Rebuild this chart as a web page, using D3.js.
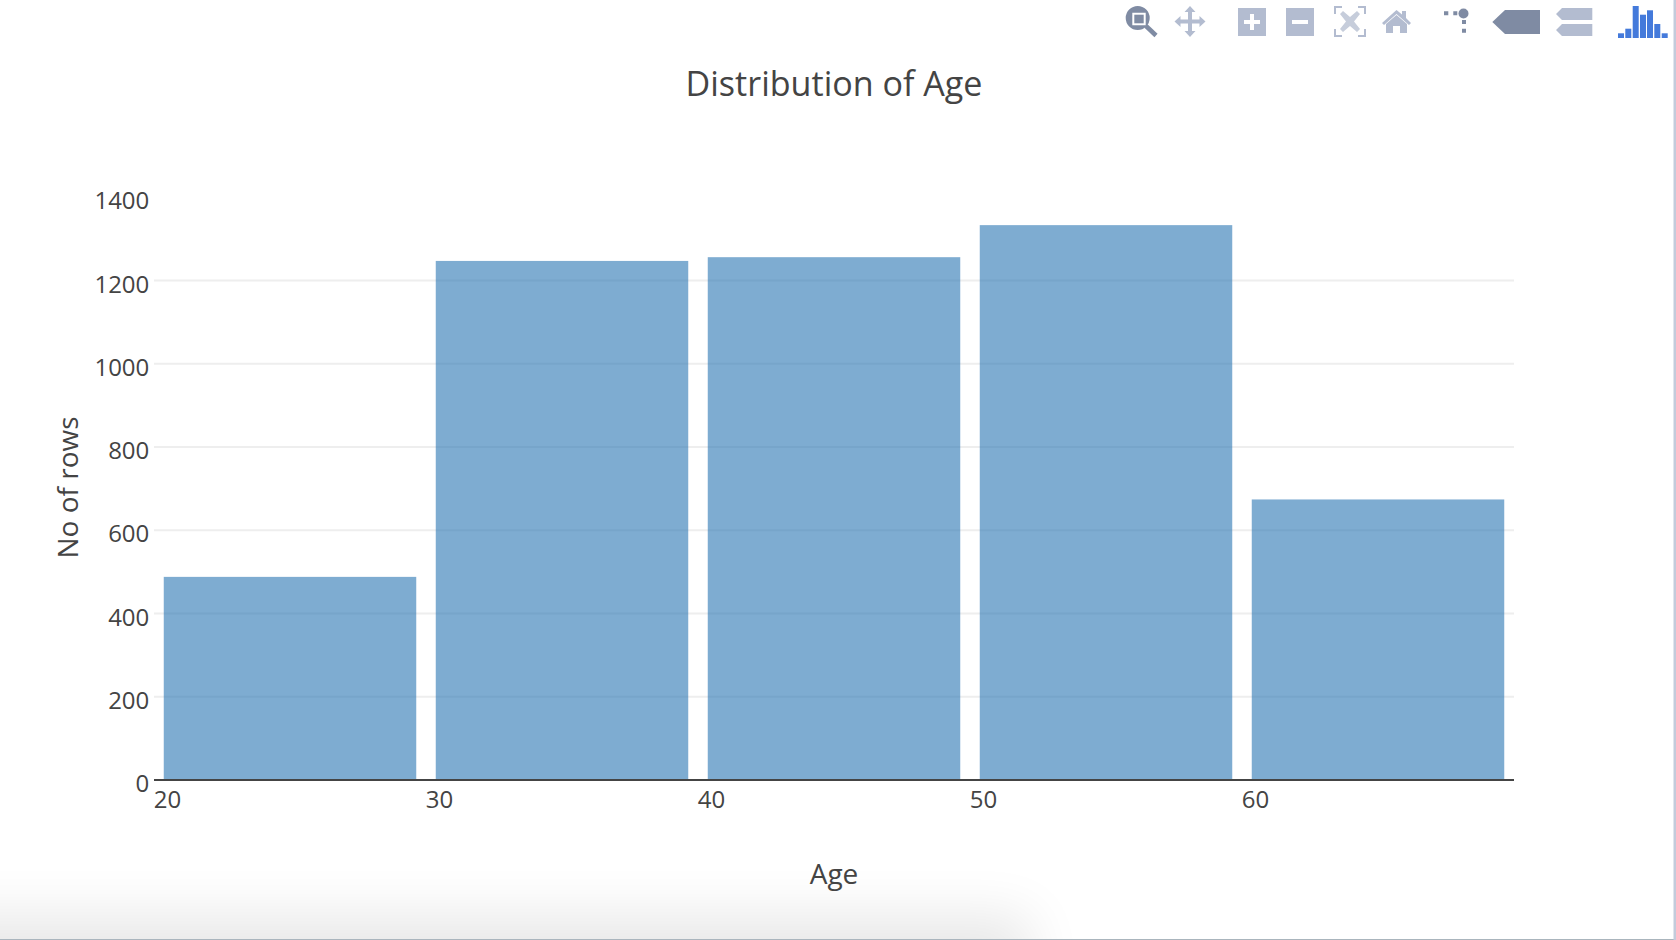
<!DOCTYPE html>
<html>

<head>
  <title>Distribution of Age</title>
  <script src="https://cdn.jsdelivr.net/npm/d3@7"></script>
  <style>
    html, body { margin: 0; padding: 0; background: #fff; overflow: hidden; }
    svg { display: block; }
    text { font-family: "Open Sans", sans-serif; fill: #444; }
  </style>
</head>

<body>
  <svg id="chart"></svg>

  <script>
    // Values
    const binStarts = [19.5, 29.5, 39.5, 49.5, 59.5];
    const binSize = 10;
    const counts = [488, 1247, 1256, 1333, 674];
    const xTicks = [20, 30, 40, 50, 60];
    const yTicks = [0, 200, 400, 600, 800, 1000, 1200, 1400];

    const width = 1676;
    const height = 940;
    const barColor = "#2875b2";
    const gapPx = 9.75; // half of the gap between two bars

    const svg = d3.select("#chart")
      .attr("width", width)
      .attr("height", height)
      .attr("viewBox", [0, 0, width, height]);

    const x = d3.scaleLinear().domain([19.5, 69.5]).range([154, 1514]);
    const y = d3.scaleLinear().domain([0, 1400]).range([780, 197.25]);

    // Grey shadow along the bottom of the screenshot
    const blur = svg.append("defs").append("filter")
      .attr("id", "shadow")
      .attr("x", "-20%").attr("y", "-200%")
      .attr("width", "140%").attr("height", "500%");
    blur.append("feGaussianBlur").attr("stdDeviation", 27);

    svg.append("rect")
      .attr("x", -200).attr("y", 915)
      .attr("width", 1230).attr("height", 120)
      .attr("fill", "#000")
      .attr("opacity", 0.09)
      .attr("filter", "url(#shadow)");

    // Gridlines, none at the bottom or the top tick
    svg.append("g")
      .selectAll("line")
      .data(yTicks.filter(d => d > 0 && d < 1400))
      .join("line")
      .attr("x1", x.range()[0])
      .attr("x2", x.range()[1])
      .attr("y1", d => y(d))
      .attr("y2", d => y(d))
      .attr("stroke", "#eee")
      .attr("stroke-width", 2);

    // Bars
    svg.append("g")
      .attr("fill", barColor)
      .attr("fill-opacity", 0.6)
      .selectAll("rect")
      .data(counts)
      .join("rect")
      .attr("x", (d, i) => x(binStarts[i]) + gapPx)
      .attr("width", (d, i) => x(binStarts[i] + binSize) - x(binStarts[i]) - 2 * gapPx)
      .attr("y", d => y(d))
      .attr("height", d => y(0) - y(d));

    // Axes
    const xAxis = svg.append("g")
      .attr("transform", `translate(0,${y(0)})`)
      .call(d3.axisBottom(x).tickValues(xTicks).tickSize(0).tickFormat(d3.format("d")));
    xAxis.select(".domain").remove();
    xAxis.selectAll("text")
      .attr("x", -0.7)
      .attr("y", 0)
      .attr("dy", 28.3)
      .style("font-size", "24px");

    const yAxis = svg.append("g")
      .attr("transform", `translate(${x.range()[0]},0)`)
      .call(d3.axisLeft(y).tickValues(yTicks).tickSize(0).tickFormat(d3.format("d")));
    yAxis.select(".domain").remove();
    yAxis.selectAll("text")
      .attr("x", -4.7)
      .attr("dy", 11.7)
      .style("font-size", "24px");

    svg.append("line")
      .attr("x1", x.range()[0])
      .attr("x2", x.range()[1])
      .attr("y1", y(0))
      .attr("y2", y(0))
      .attr("stroke", "#444")
      .attr("stroke-width", 2);

    // Titles
    svg.append("text")
      .attr("x", 834).attr("y", 95.5)
      .attr("text-anchor", "middle")
      .style("font-size", "34.1px")
      .text("Distribution of Age");

    svg.append("text")
      .attr("x", 834).attr("y", 884)
      .attr("text-anchor", "middle")
      .style("font-size", "28px")
      .text("Age");

    svg.append("text")
      .attr("transform", "translate(78,487.5) rotate(-90)")
      .attr("text-anchor", "middle")
      .style("font-size", "28px")
      .text("No of rows");

    // Modebar icons
    const active = "#7f8ba3";
    const idle = "#b3bcd0";
    const bar = svg.append("g");

    function icon(d, fill) {
      bar.append("path").attr("d", d).attr("fill", fill).attr("fill-rule", "evenodd");
    }

    // zoom
    icon("M1149.7 18a12 12 0 1 1-24 0a12 12 0 1 1 24 0ZM1132.3 12.7v12.6h13.4v-12.6Z", active);
    icon("M1134.3 14.7h9.4v8.6h-9.4Z", active);
    svg.append("line").attr("x1", 1146).attr("y1", 26).attr("x2", 1156).attr("y2", 35.5)
      .attr("stroke", active).attr("stroke-width", 4.5);

    // pan
    icon("M1190 6l5.5 6h-3.5v7.5h7.5v-3.5l6 5.5l-6 5.5v-3.5H1192V31h3.5l-5.5 6l-5.5-6h3.5v-7.5h-7.5v3.5l-6-5.5l6-5.5v3.5h7.5V12h-3.5Z", idle);

    // zoom in, zoom out
    icon("M1238 8h28v28h-28ZM1250 14v6h-6v4h6v6h4v-6h6v-4h-6v-6Z", idle);
    icon("M1286 8h28v28h-28ZM1292 20v4h16v-4Z", idle);

    // autoscale
    icon("M1334 6h8v2h-6v6h-2ZM1358 6h8v8h-2v-6h-6ZM1334 29h2v6h6v2h-8ZM1364 29h2v8h-8v-2h6Z", idle);
    icon("M1340 14l3-3l7 6l7-6l3 3l-6 7.5l6 7.5l-3 3l-7-6l-7 6l-3-3l6-7.5Z", "#c6cddb");

    // home
    icon("M1382 23l14.5-13l5.5 4.5v-3.5h4v7l5 5l-2 2l-12.5-11l-12.5 11Z", idle);
    icon("M1386 24l10.5-9l10.5 9v9h-7v-7h-7v7h-7Z", idle);

    // spikelines
    icon("M1444 11.3h4.3v4h-4.3ZM1453.3 11.3h4v4h-4ZM1462 20h4v4h-4ZM1462 28.7h4v4h-4Z", active);
    svg.append("circle").attr("cx", 1463.5).attr("cy", 13.5).attr("r", 5).attr("fill", active);

    // hover closest, hover compare
    icon("M1492.3 22L1505 10h35v24h-35Z", active);
    icon("M1556 14L1562 8h30.3v12H1562ZM1556 30L1562 24h30.3v12H1562Z", idle);

    // logo
    const logoBars = [[1618, 33.3], [1625.3, 28.7], [1632.7, 6], [1640, 14.7], [1647, 10.3], [1654.3, 24], [1661.7, 33.3]];
    bar.append("g").attr("fill", "#447adb")
      .selectAll("rect")
      .data(logoBars)
      .join("rect")
      .attr("x", d => d[0])
      .attr("y", d => d[1])
      .attr("width", 6)
      .attr("height", d => 38 - d[1]);

    // Window borders of the screenshot
    svg.append("rect").attr("x", 0).attr("y", 939).attr("width", width).attr("height", 1).attr("fill", "#aab5bd");
    svg.append("rect").attr("x", 1673.5).attr("y", 0).attr("width", 2.5).attr("height", height).attr("fill", "#c3cbdb");
  </script>
</body>

</html>
